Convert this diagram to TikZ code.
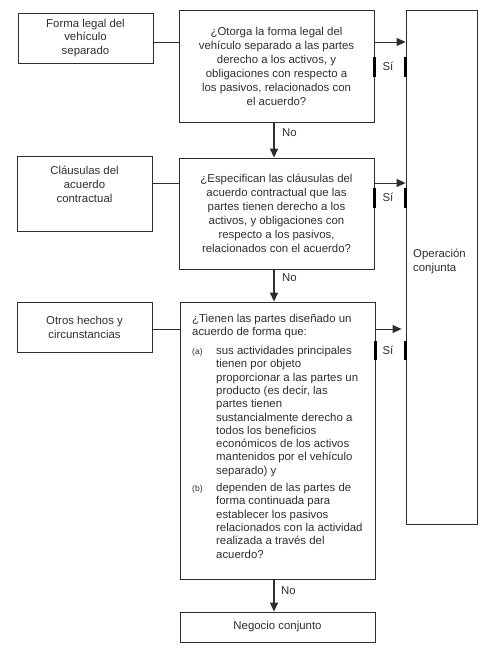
\documentclass[tikz,border=0pt]{standalone}
\usepackage{fontspec}
\setmainfont{Liberation Sans}
\usetikzlibrary{arrows.meta}
\definecolor{ink}{HTML}{2E2E2E}
\newcommand{\itemtag}[1]{\makebox[24pt][l]{\fontsize{8.5}{10}\selectfont #1}}
\newcommand{\qind}{\hspace*{24pt}}
\tikzset{
  box/.style={draw=ink, line width=0.8pt, inner sep=0pt, align=center, text=ink,
    font=\fontsize{11.4}{14}\selectfont},
  txt/.style={inner sep=0pt, text=ink, align=left, font=\fontsize{11.4}{14}\selectfont},
  link/.style={draw=ink, line width=0.8pt},
  yes/.style={draw=ink, line width=0.9pt, -{Triangle[length=9pt,width=8pt]}},
  no/.style={draw=ink, line width=1.3pt, -{Triangle[length=9pt,width=8pt]}},
  sibar/.style={draw=black, line width=2.6pt}
}
\begin{document}
\begin{tikzpicture}[x=1pt, y=-1pt]
  \useasboundingbox (0,0) rectangle (493,652);
  % sources
  \node[box, minimum width=135pt, minimum height=50pt, font=\fontsize{11.4}{13.5}\selectfont]
    (legal) at (85.5,38) {Forma legal del\\vehículo\\separado};
  \node[box, minimum width=135pt, minimum height=75pt] (clausulas) at (84.5,193.5)
    {Cláusulas del\\acuerdo\\contractual\\[4pt]};
  \node[box, minimum width=135pt, minimum height=50pt] (otros) at (84.5,327)
    {Otros hechos y\\circunstancias};
  % questions
  \node[box, minimum width=195pt, minimum height=112pt] (q1) at (276.5,66)
    {¿Otorga la forma legal del\\vehículo separado a las partes\\derecho a los activos, y\\%
     obligaciones con respecto a\\los pasivos, relacionados con\\el acuerdo?};
  \node[box, minimum width=195pt, minimum height=111pt] (q2) at (276.5,213.5)
    {¿Especifican las cláusulas del\\acuerdo contractual que las\\partes tienen derecho a los\\%
     activos, y obligaciones con\\respecto a los pasivos,\\relacionados con el acuerdo?};
  \node[box, minimum width=195pt, minimum height=277pt] (q3) at (277.5,440.5) {};
  \node[txt, anchor=north west, font=\fontsize{11.4}{13.3}\selectfont] (q3txt) at (192,314)
    {¿Tienen las partes diseñado un\\acuerdo de forma que:\\[5.5pt]
     \itemtag{(a)}sus actividades principales\\
     \qind tienen por objeto\\
     \qind proporcionar a las partes un\\
     \qind producto (es decir, las\\
     \qind partes tienen\\
     \qind sustancialmente derecho a\\
     \qind todos los beneficios\\
     \qind económicos de los activos\\
     \qind mantenidos por el vehículo\\
     \qind separado) y\\[4pt]
     \itemtag{(b)}dependen de las partes de\\
     \qind forma continuada para\\
     \qind establecer los pasivos\\
     \qind relacionados con la actividad\\
     \qind realizada a través del\\
     \qind acuerdo?};
  % outcomes
  \node[box, minimum width=195pt, minimum height=30pt] (negocio) at (277.5,627)
    {Negocio conjunto};
  \node[box, minimum width=71pt, minimum height=514pt] (op) at (441.5,267) {};
  \node[txt, anchor=west] (optxt) at (413,261) {Operación\\conjunta};
  % Si branches
  \foreach \q/\src/\y/\t/\b/\m/\gap in {q1/legal/42/57/77/66/0, q2/clausulas/183/188/208/197/0,
                                    q3/otros/329/341/360/350/4}{
    \draw[link] (\src.east |- 0,\y) -- (\q.west |- 0,\y);
    \draw[yes, shorten >=\gap pt] (\q.east |- 0,\y) -- (op.west |- 0,\y);
    \draw[sibar] (\q.east |- 0,\t) -- (\q.east |- 0,\b);
    \draw[sibar] (op.west |- 0,\t) -- (op.west |- 0,\b);
    \node[txt] (si\q) at (388,\m) {Sí};
  }
  % No branches
  \draw[no] (q1.south -| 274,0) -- (q2.north -| 274,0);
  \draw[no] (q2.south -| 274,0) -- (q3.north -| 274,0);
  \draw[no] (q3.south -| 274,0) -- (negocio.north -| 274,0);
  \node[txt, anchor=west] (no1) at (282,133) {No};
  \node[txt, anchor=west] (no2) at (282,278) {No};
  \node[txt, anchor=west] (no3) at (281,591) {No};
\end{tikzpicture}
\end{document}
